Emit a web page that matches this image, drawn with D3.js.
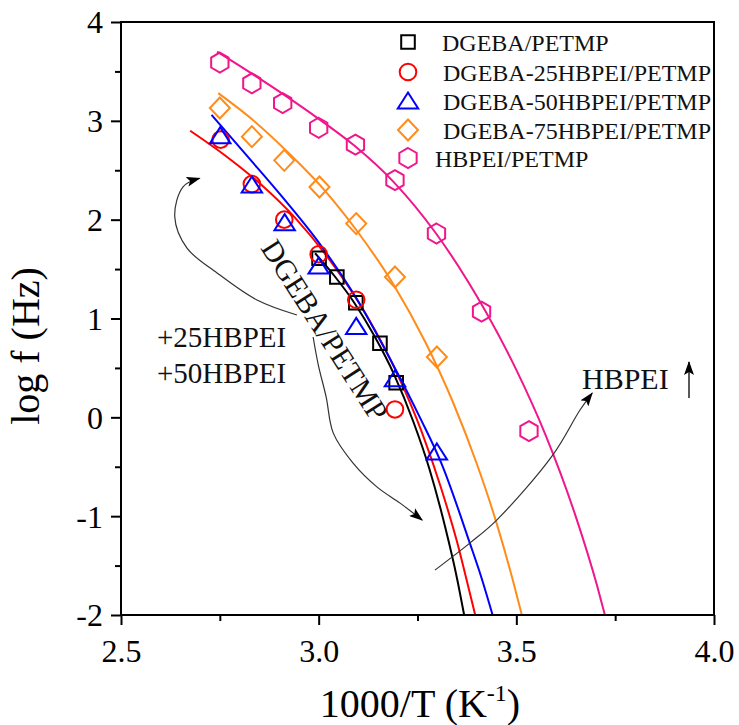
<!DOCTYPE html>
<html>
<head>
<meta charset="utf-8">
<script src="https://cdn.jsdelivr.net/npm/d3@7"></script>
<style>
  html, body { margin: 0; padding: 0; background: #fff; }
  svg { display: block; font-family: "Liberation Serif", "Times New Roman", serif; }
</style>
</head>
<body>
<svg id="chart" width="739" height="725"></svg>
<script>
// ---------------- DATA ----------------
const seriesNames = ["DGEBA/PETMP", "DGEBA-25HBPEI/PETMP", "DGEBA-50HBPEI/PETMP", "DGEBA-75HBPEI/PETMP", "HBPEI/PETMP"];
const seriesColors = ["#000000", "#ff0000", "#0000ff", "#ff8c1a", "#f0168c"];
const seriesShapes = ["square", "circle", "triangle", "diamond", "hexagon"];

// measured points [1000/T, log f]
const pointsDGEBA   = [[3.001,1.61],[3.046,1.42],[3.094,1.16],[3.155,0.75],[3.196,0.35]];
const points25      = [[2.752,2.81],[2.831,2.36],[2.913,2.00],[3.000,1.65],[3.095,1.19],[3.193,0.08]];
const points50      = [[2.751,2.85],[2.831,2.35],[2.914,1.97],[3.000,1.53],[3.095,0.92],[3.193,0.39],[3.299,-0.35]];
const points75      = [[2.750,3.13],[2.831,2.84],[2.913,2.60],[3.002,2.33],[3.095,1.96],[3.193,1.42],[3.299,0.61]];
const pointsHBPEI   = [[2.750,3.59],[2.831,3.38],[2.909,3.18],[3.000,2.93],[3.093,2.76],[3.193,2.40],[3.298,1.86],[3.412,1.07],[3.532,-0.14]];

// fitted (VFT) curves
const fitDGEBA = [[2.991,1.66],[3.040,1.43],[3.090,1.16],[3.140,0.83],[3.190,0.44],[3.240,-0.05],[3.280,-0.52],[3.320,-1.11],[3.350,-1.63],[3.368,-2.0]];
const fit25    = [[2.675,2.90],[2.760,2.66],[2.850,2.37],[2.940,2.02],[3.030,1.58],[3.120,1.04],[3.200,0.43],[3.260,-0.14],[3.310,-0.72],[3.350,-1.26],[3.380,-1.74],[3.396,-2.0]];
const fit50    = [[2.729,3.06],[2.820,2.64],[2.910,2.22],[3.000,1.77],[3.096,1.20],[3.190,0.52],[3.256,0.00],[3.311,-0.47],[3.383,-1.28],[3.410,-1.60],[3.440,-2.0]];
const fit75    = [[2.746,3.28],[2.830,3.02],[2.920,2.69],[3.010,2.32],[3.100,1.87],[3.190,1.34],[3.270,0.76],[3.340,0.15],[3.400,-0.47],[3.450,-1.07],[3.490,-1.63],[3.514,-2.0]];
const fitHBPEI = [[2.743,3.70],[2.830,3.48],[2.910,3.27],[3.000,3.02],[3.090,2.75],[3.190,2.38],[3.297,1.86],[3.421,1.08],[3.500,0.48],[3.573,-0.17],[3.650,-1.00],[3.704,-1.70],[3.724,-2.0]];

const xMajorTicks = [2.5, 3.0, 3.5, 4.0];
const xTickLabels = ["2.5", "3.0", "3.5", "4.0"];
const xMinorTicks = [2.75, 3.25, 3.75];
const yMajorTicks = [-2, -1, 0, 1, 2, 3, 4];
const yTickLabels = ["-2", "-1", "0", "1", "2", "3", "4"];
const yMinorTicks = [-1.5, -0.5, 0.5, 1.5, 2.5, 3.5];

// annotation arrows (data coordinates)
const arrowUp   = [[2.945,1.035],[2.844,1.187],[2.743,1.461],[2.667,1.712],[2.636,2.030],[2.657,2.333],[2.699,2.419]];
const arrowDown = [[2.986,0.813],[2.999,0.532],[3.019,0.205],[3.037,-0.160],[3.087,-0.463],[3.148,-0.706],[3.206,-0.868],[3.262,-1.040]];
const arrowHB   = [[3.294,-1.546],[3.383,-1.270],[3.451,-1.037],[3.593,-0.377],[3.661,0.074],[3.692,0.246]];

// ---------------- CHART ----------------
const svg = d3.select("#chart");
const X0 = 121, X1 = 714, Y0 = 615, Y1 = 22;
const xs = d3.scaleLinear().domain([2.5, 4.0]).range([X0, X1]);
const ys = d3.scaleLinear().domain([-2, 4]).range([Y0, Y1]);

function shapePath(shape) {
  switch (shape) {
    case "square": { const s = 6.8; return `M${-s},${-s}H${s}V${s}H${-s}Z`; }
    case "circle": { const r = 8.3; return `M${r},0A${r},${r} 0 1,1 ${-r},0A${r},${r} 0 1,1 ${r},0Z`; }
    case "triangle": return "M0,-8.5L10.2,7.5L-10.2,7.5Z";
    case "diamond": return "M0,-10.5L10,0L0,10.5L-10,0Z";
    case "hexagon": {
      const r = 10; const pts = [];
      for (let i = 0; i < 6; i++) { const a = (-90 + 60 * i) * Math.PI / 180; pts.push([r * Math.cos(a), r * Math.sin(a)]); }
      return "M" + pts.map(p => p[0].toFixed(2) + "," + p[1].toFixed(2)).join("L") + "Z";
    }
  }
}

const defs = svg.append("defs");
defs.append("clipPath").attr("id", "plotclip").append("rect")
  .attr("x", X0).attr("y", Y1).attr("width", X1 - X0).attr("height", Y0 - Y1);
defs.append("marker").attr("id", "ah").attr("viewBox", "0 0 14 10")
  .attr("refX", 13).attr("refY", 5).attr("markerWidth", 14).attr("markerHeight", 10)
  .attr("markerUnits", "userSpaceOnUse").attr("orient", "auto")
  .append("path").attr("d", "M0,0L14,5L0,10L3,5Z").attr("fill", "#000");

// fit lines
const line = d3.line().x(d => xs(d[0])).y(d => ys(d[1])).curve(d3.curveMonotoneX);
const fits = [fitDGEBA, fit25, fit50, fit75, fitHBPEI];
const gLines = svg.append("g").attr("clip-path", "url(#plotclip)");
fits.forEach((f, i) => {
  gLines.append("path").attr("d", line(f)).attr("fill", "none")
    .attr("stroke", seriesColors[i]).attr("stroke-width", 2);
});

// annotation arrows
const aLine = d3.line().x(d => xs(d[0])).y(d => ys(d[1])).curve(d3.curveCatmullRom.alpha(0.5));
[arrowUp, arrowDown, arrowHB].forEach(a => {
  svg.append("path").attr("d", aLine(a)).attr("fill", "none")
    .attr("stroke", "#333").attr("stroke-width", 1.2).attr("marker-end", "url(#ah)");
});

// markers
const pts = [pointsDGEBA, points25, points50, points75, pointsHBPEI];
pts.forEach((p, i) => {
  svg.append("g").selectAll("path").data(p).join("path")
    .attr("d", shapePath(seriesShapes[i]))
    .attr("transform", d => `translate(${xs(d[0])},${ys(d[1])})`)
    .attr("fill", "none").attr("stroke", seriesColors[i]).attr("stroke-width", 2);
});

// frame
svg.append("rect").attr("x", X0).attr("y", Y1).attr("width", X1 - X0).attr("height", Y0 - Y1)
  .attr("fill", "none").attr("stroke", "#000").attr("stroke-width", 2);

// axes
const xAxis = d3.axisBottom(xs).tickValues(xMajorTicks).tickSize(10).tickFormat((d, i) => xTickLabels[i]);
const gx = svg.append("g").attr("transform", `translate(0,${Y0})`).call(xAxis);
gx.select(".domain").remove();
gx.selectAll(".tick line").attr("stroke-width", 2);
gx.selectAll(".tick text").attr("font-size", 32).attr("font-family", "Liberation Serif").attr("fill", "#000").attr("dy", null).attr("y", 47);
const gxm = svg.append("g").attr("transform", `translate(0,${Y0})`)
  .call(d3.axisBottom(xs).tickValues(xMinorTicks).tickSize(6).tickFormat(""));
gxm.select(".domain").remove();
gxm.selectAll(".tick line").attr("stroke-width", 2);

const yAxis = d3.axisLeft(ys).tickValues(yMajorTicks).tickSize(10).tickFormat((d, i) => yTickLabels[i]);
const gy = svg.append("g").attr("transform", `translate(${X0},0)`).call(yAxis);
gy.select(".domain").remove();
gy.selectAll(".tick line").attr("stroke-width", 2);
gy.selectAll(".tick text").attr("font-size", 32).attr("font-family", "Liberation Serif").attr("fill", "#000").attr("x", -18).attr("dy", "0.34em");
const gym = svg.append("g").attr("transform", `translate(${X0},0)`)
  .call(d3.axisLeft(ys).tickValues(yMinorTicks).tickSize(6).tickFormat(""));
gym.select(".domain").remove();
gym.selectAll(".tick line").attr("stroke-width", 2);

// axis titles
const xt = svg.append("text").attr("x", 420).attr("y", 717).attr("text-anchor", "middle")
  .attr("font-size", 40).attr("fill", "#000");
xt.append("tspan").text("1000/T (K");
xt.append("tspan").attr("font-size", 24).attr("dy", -16).text("-1");
xt.append("tspan").attr("dy", 16).text(")");

svg.append("text").attr("transform", "translate(39,346) rotate(-90)").attr("text-anchor", "middle")
  .attr("font-size", 40).attr("fill", "#000").text("log f (Hz)");

// legend
const legendRows = [42, 72, 101, 130, 158];
const legendTextX = [442, 443, 443, 443, 435];
seriesNames.forEach((n, i) => {
  svg.append("path").attr("d", shapePath(seriesShapes[i]))
    .attr("transform", `translate(408,${legendRows[i]})`)
    .attr("fill", "none").attr("stroke", seriesColors[i]).attr("stroke-width", 2);
  svg.append("text").attr("x", legendTextX[i]).attr("y", legendRows[i] + 9)
    .attr("font-size", 24).attr("fill", "#111").text(n);
});

// annotations
svg.append("text").attr("x", 157).attr("y", 347).attr("font-size", 29).attr("fill", "#111").text("+25HBPEI");
svg.append("text").attr("x", 157).attr("y", 383).attr("font-size", 29).attr("fill", "#111").text("+50HBPEI");
svg.append("text").attr("transform", "translate(325,330) rotate(57.4)").attr("text-anchor", "middle")
  .attr("dominant-baseline", "central").attr("font-size", 30).attr("fill", "#111").text("DGEBA/PETMP");
svg.append("text").attr("x", 582).attr("y", 389).attr("font-size", 30).attr("fill", "#111").text("HBPEI");
svg.append("line").attr("x1", 689).attr("y1", 398).attr("x2", 689).attr("y2", 362)
  .attr("stroke", "#000").attr("stroke-width", 1.3).attr("marker-end", "url(#ah)");
</script>
</body>
</html>
